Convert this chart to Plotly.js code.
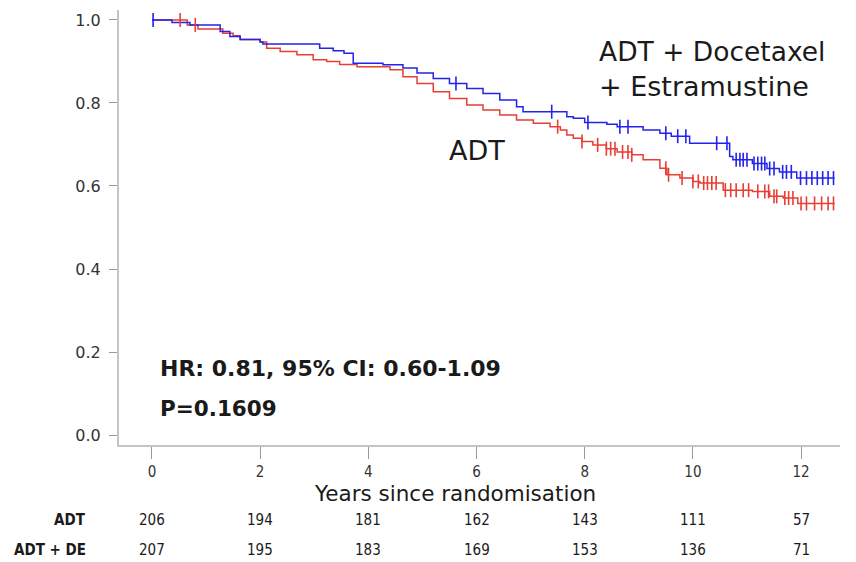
<!DOCTYPE html>
<html>
<head>
<meta charset="utf-8">
<script src="https://cdn.plot.ly/plotly-3.0.1.min.js"></script>
<style>html,body{margin:0;padding:0;background:#fff;}#chart{width:856px;height:562px;}</style>
</head>
<body>
<div id="chart"></div>
<script>
// ADT + Docetaxel + Estramustine (blue)
const timeDE = [0, 0.37, 0.7, 1.26, 1.44, 1.63, 2.0, 2.05, 3.1, 3.35, 3.55, 3.72, 4.27, 4.64, 4.9, 5.2, 5.5, 5.82, 6.12, 6.43, 6.74, 6.86, 7.67, 7.79, 8.0, 8.41, 8.6, 9.08, 9.39, 9.6, 9.94, 10.68, 10.74, 11.1, 11.37, 11.6, 11.92, 12.62];
const survDE = [1.0, 0.994, 0.988, 0.972, 0.96, 0.953, 0.947, 0.942, 0.932, 0.926, 0.92, 0.896, 0.892, 0.884, 0.872, 0.859, 0.847, 0.835, 0.823, 0.807, 0.791, 0.779, 0.767, 0.763, 0.753, 0.749, 0.743, 0.735, 0.727, 0.72, 0.703, 0.671, 0.663, 0.654, 0.642, 0.634, 0.619, 0.619];
const censorDE = [0.02, 5.62, 7.39, 8.06, 8.65, 8.8, 9.5, 9.72, 9.87, 10.44, 10.63, 10.8, 10.87, 10.93, 11.0, 11.13, 11.2, 11.27, 11.33, 11.42, 11.5, 11.66, 11.73, 11.82, 11.99, 12.1, 12.2, 12.3, 12.4, 12.5, 12.6];

// ADT (red)
const timeADT = [0, 0.65, 0.85, 1.31, 1.5, 1.63, 2.0, 2.12, 2.37, 2.68, 2.98, 3.23, 3.47, 3.79, 4.4, 4.64, 4.9, 5.2, 5.5, 5.82, 6.12, 6.43, 6.74, 7.05, 7.36, 7.55, 7.67, 7.79, 7.95, 8.15, 8.4, 8.6, 8.87, 9.08, 9.39, 9.52, 9.76, 10.0, 10.13, 10.56, 11.1, 11.42, 11.67, 11.94, 12.62];
const survADT = [1.0, 0.988, 0.978, 0.968, 0.962, 0.953, 0.947, 0.932, 0.924, 0.916, 0.904, 0.9, 0.893, 0.887, 0.88, 0.863, 0.847, 0.827, 0.811, 0.795, 0.783, 0.771, 0.759, 0.751, 0.743, 0.735, 0.723, 0.715, 0.707, 0.699, 0.69, 0.682, 0.675, 0.663, 0.643, 0.627, 0.619, 0.611, 0.607, 0.59, 0.587, 0.575, 0.571, 0.558, 0.558];
const censorADT = [0.52, 0.8, 7.5, 7.95, 8.24, 8.4, 8.48, 8.56, 8.7, 8.8, 8.87, 9.5, 9.55, 9.8, 10.0, 10.1, 10.2, 10.27, 10.35, 10.43, 10.6, 10.7, 10.8, 10.93, 11.03, 11.2, 11.33, 11.4, 11.5, 11.55, 11.7, 11.77, 11.85, 12.0, 12.1, 12.25, 12.38, 12.5, 12.6];

// Numbers at risk
const riskTimes = [0, 2, 4, 6, 8, 10, 12];
const riskADT = [206, 194, 181, 162, 143, 111, 57];
const riskDE = [207, 195, 183, 169, 153, 136, 71];
const riskLabels = ["ADT", "ADT + DE"];

const xTicks = [0, 2, 4, 6, 8, 10, 12];
const yTicks = [0, 0.2, 0.4, 0.6, 0.8, 1.0];

function stepAt(times, surv, t) {
  let v = surv[0];
  for (let i = 0; i < times.length; i++) { if (times[i] <= t) v = surv[i]; else break; }
  return v;
}

const blue = 'rgb(35,35,235)';
const red = 'rgb(232,62,52)';
const cond = 'DejaVu Sans Condensed, DejaVu Sans';

const traces = [
  {x: timeADT, y: survADT, mode: 'lines', line: {shape: 'hv', color: red, width: 1.5}, hoverinfo: 'skip'},
  {x: timeDE, y: survDE, mode: 'lines', line: {shape: 'hv', color: blue, width: 1.5}, hoverinfo: 'skip'},
  {x: censorADT, y: censorADT.map(t => stepAt(timeADT, survADT, t)), mode: 'markers',
   marker: {symbol: 'line-ns', size: 10, line: {color: red, width: 1.6}}, hoverinfo: 'skip'},
  {x: censorDE, y: censorDE.map(t => stepAt(timeDE, survDE, t)), mode: 'markers',
   marker: {symbol: 'line-ns', size: 10, line: {color: blue, width: 1.6}}, hoverinfo: 'skip'}
];

const txt = '#1a1a1a';
// paper y = (445 - pixelY) / 435
const annotations = [
  {xref: 'paper', yref: 'y', x: 0.663, y: 0.925, xanchor: 'left', yanchor: 'middle', showarrow: false,
   text: 'ADT + Docetaxel', font: {family: 'DejaVu Sans', size: 26.5, color: txt}},
  {xref: 'paper', yref: 'y', x: 0.663, y: 0.839, xanchor: 'left', yanchor: 'middle', showarrow: false,
   text: '+ Estramustine', font: {family: 'DejaVu Sans', size: 27, color: txt}},
  {xref: 'paper', yref: 'y', x: 0.455, y: 0.686, xanchor: 'left', yanchor: 'middle', showarrow: false,
   text: 'ADT', font: {family: 'DejaVu Sans', size: 27, color: txt}},
  {xref: 'paper', yref: 'y', x: 0.054, y: 0.161, xanchor: 'left', yanchor: 'middle', showarrow: false,
   text: '<b>HR: 0.81, 95% CI: 0.60-1.09</b>', font: {family: 'DejaVu Sans', size: 22, color: txt}},
  {xref: 'paper', yref: 'y', x: 0.054, y: 0.065, xanchor: 'left', yanchor: 'middle', showarrow: false,
   text: '<b>P=0.1609</b>', font: {family: 'DejaVu Sans', size: 21.5, color: txt}},
  {xref: 'x', yref: 'paper', x: 5.6, y: -0.1126, xanchor: 'center', yanchor: 'middle', showarrow: false,
   text: 'Years since randomisation', font: {family: 'DejaVu Sans', size: 21.5, color: txt}},
  {xref: 'paper', yref: 'paper', x: -0.043, y: -0.1724, xanchor: 'right', yanchor: 'middle', showarrow: false,
   text: '<b>' + riskLabels[0] + '</b>', font: {family: cond, size: 15, color: txt}},
  {xref: 'paper', yref: 'paper', x: -0.043, y: -0.2414, xanchor: 'right', yanchor: 'middle', showarrow: false,
   text: '<b>' + riskLabels[1] + '</b>', font: {family: cond, size: 15, color: txt}}
];
riskTimes.forEach((t, i) => {
  annotations.push({xref: 'x', yref: 'paper', x: t, y: -0.1724, xanchor: 'center', yanchor: 'middle', showarrow: false,
    text: String(riskADT[i]), font: {family: cond, size: 15, color: txt}});
  annotations.push({xref: 'x', yref: 'paper', x: t, y: -0.2414, xanchor: 'center', yanchor: 'middle', showarrow: false,
    text: String(riskDE[i]), font: {family: cond, size: 15, color: txt}});
});

const layout = {
  width: 856, height: 562,
  margin: {l: 119, r: 16, t: 10, b: 117},
  paper_bgcolor: '#fff', plot_bgcolor: '#fff',
  showlegend: false,
  font: {family: 'DejaVu Sans', color: '#333'},
  xaxis: {
    range: [-0.61, 12.72], tickvals: xTicks, ticktext: xTicks.map(String),
    showgrid: false, zeroline: false, showline: true, linecolor: '#c4c4c4', linewidth: 2,
    ticks: 'outside', ticklen: 12, tickwidth: 1, tickcolor: '#999',
    tickfont: {family: cond, size: 15, color: '#333'}
  },
  yaxis: {
    range: [-0.024, 1.024], tickvals: yTicks, ticktext: yTicks.map(v => v.toFixed(1)),
    showgrid: false, zeroline: false, showline: true, linecolor: '#c4c4c4', linewidth: 2,
    ticks: 'outside', ticklen: 8, tickwidth: 1, tickcolor: '#999', ticklabelstandoff: 5,
    tickfont: {family: 'DejaVu Sans', size: 16, color: '#333'}
  },
  annotations: annotations
};

Plotly.newPlot('chart', traces, layout, {displayModeBar: false, staticPlot: true});
</script>
</body>
</html>
